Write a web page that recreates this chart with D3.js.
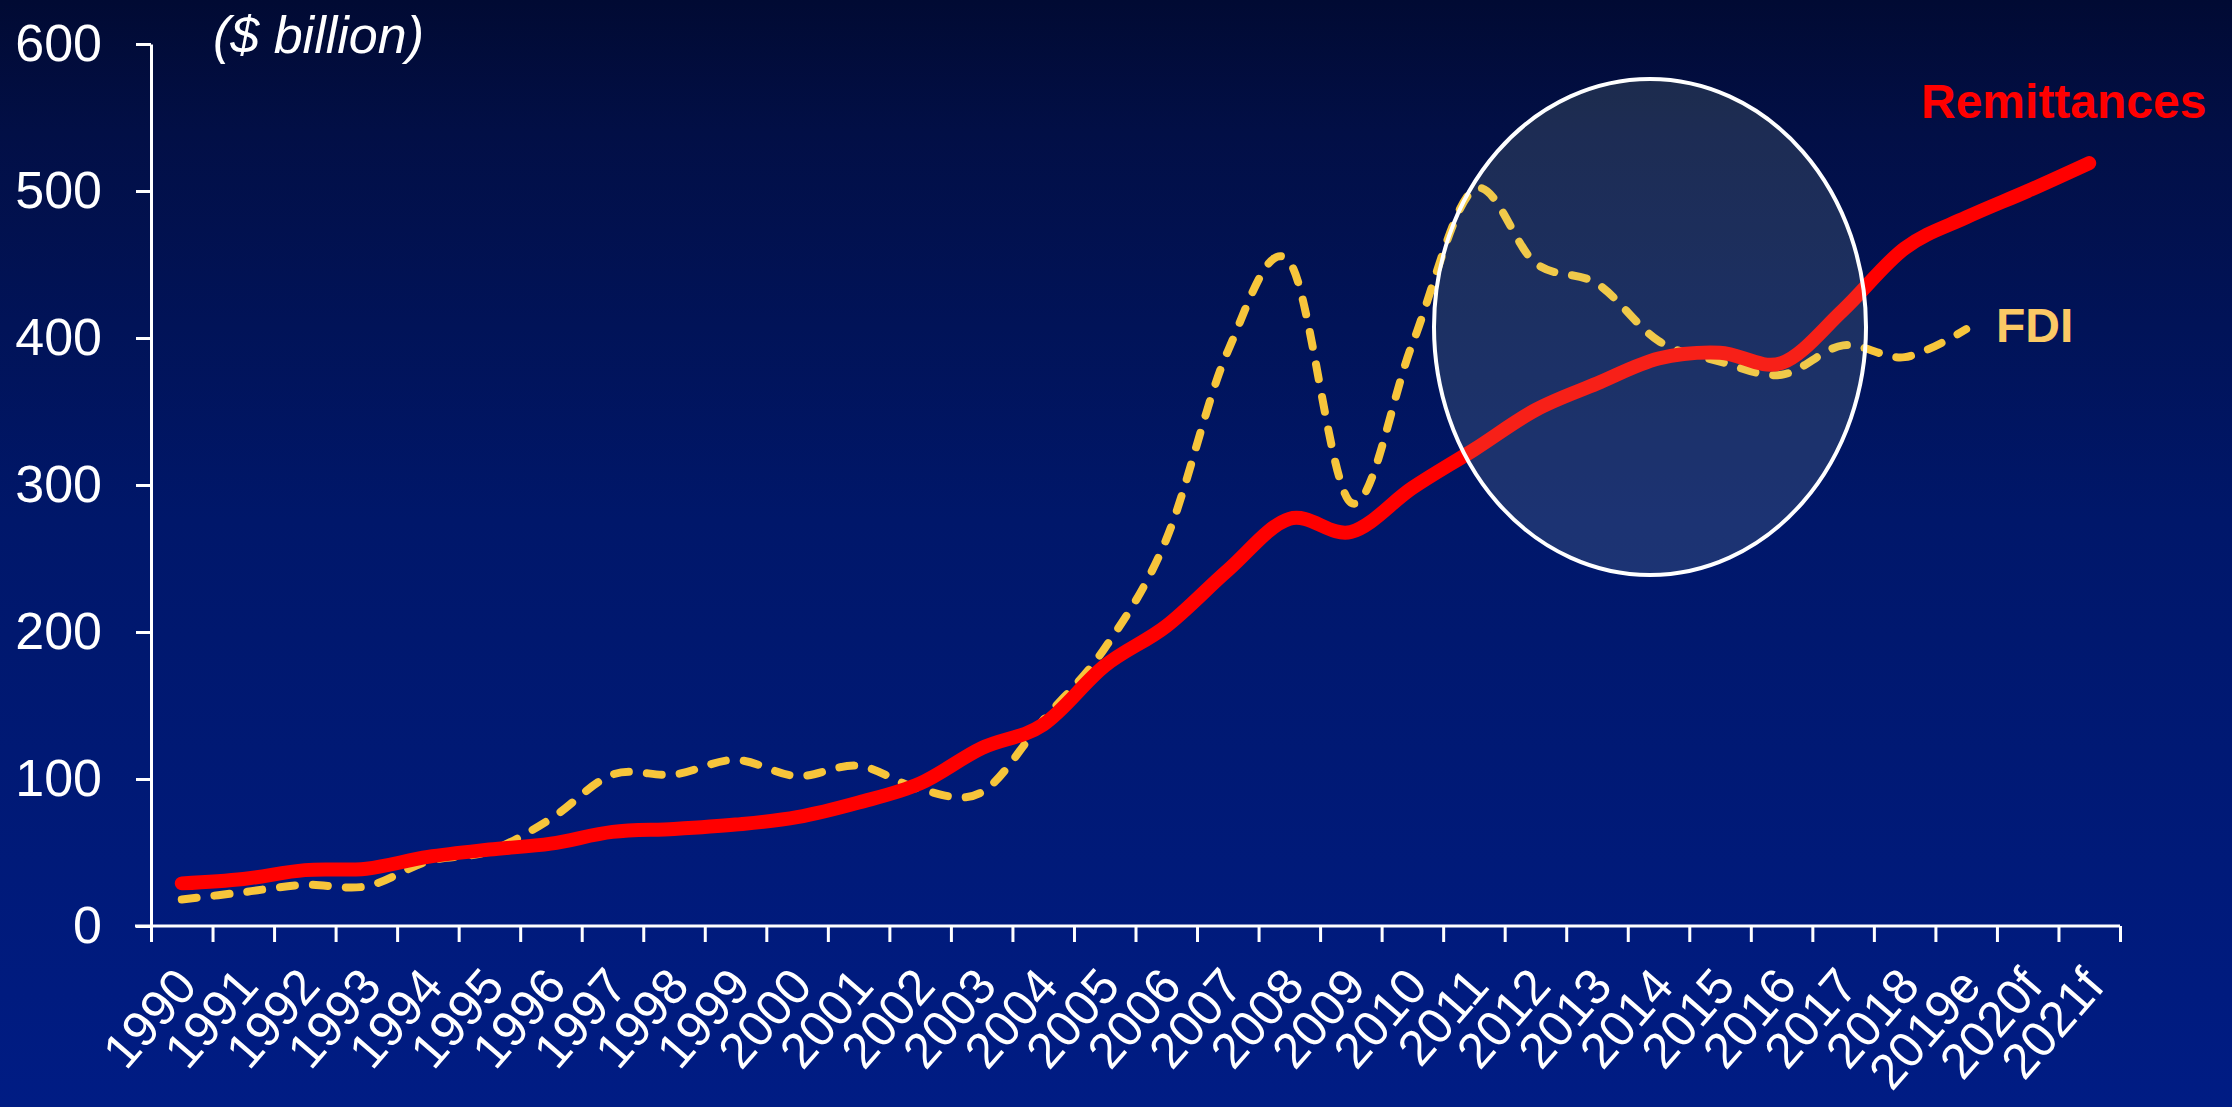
<!DOCTYPE html>
<html>
<head>
<meta charset="utf-8">
<script src="https://cdn.jsdelivr.net/npm/d3@7"></script>
<style>
  html, body { margin: 0; padding: 0; background: #000b3a; }
  svg { display: block; }
  text { font-family: "Liberation Sans", Arial, Helvetica, sans-serif; }
</style>
</head>
<body>
<svg id="chart" width="2232" height="1107"></svg>
<script>
// Remittances vs FDI flows to low- and middle-income countries ($ billion)
const years = ["1990","1991","1992","1993","1994","1995","1996","1997","1998","1999",
  "2000","2001","2002","2003","2004","2005","2006","2007","2008","2009",
  "2010","2011","2012","2013","2014","2015","2016","2017","2018","2019e","2020f","2021f"];

const remittances = [29, 32, 38, 39, 47, 52, 56, 64, 66, 69,
  74, 84, 97, 121, 137, 177, 204, 242, 277, 268,
  298, 324, 351, 369, 386, 390, 383, 419, 461, 482, 500, 519];

// FDI series stops at 2019e
const fdi = [18, 23, 28, 27, 44, 51, 73, 103, 103, 113,
  102, 109, 93, 91, 140, 189, 263, 391, 452, 288,
  396, 501, 451, 437, 398, 384, 375, 395, 387, 406];

const yTicks = [0, 100, 200, 300, 400, 500, 600];

(function draw() {
  const W = 2232, H = 1107;
  const svg = d3.select("#chart");

  // background gradient
  const defs = svg.append("defs");
  const bg = defs.append("linearGradient").attr("id", "bg")
    .attr("x1", 0).attr("y1", 0).attr("x2", 0).attr("y2", 1);
  [[0, "#010a33"], [0.12, "#020f46"], [0.47, "#00176a"], [1, "#001c84"]]
    .forEach(([o, c]) => bg.append("stop").attr("offset", o).attr("stop-color", c));
  svg.append("rect").attr("width", W).attr("height", H).attr("fill", "url(#bg)");

  const plotL = 151, plotR = 2120, plotT = 44, plotB = 926;

  const x = d3.scaleBand().domain(years).range([plotL, plotR]);
  const cx = d => x(d) + x.bandwidth() / 2;
  const y = d3.scaleLinear().domain([0, 600]).range([plotB, plotT]);

  // y axis
  const yAxis = svg.append("g")
    .attr("transform", `translate(${plotL},0)`)
    .call(d3.axisLeft(y).tickValues(yTicks).tickSize(15).tickSizeOuter(0).tickPadding(34));
  yAxis.selectAll("path, line").attr("stroke", "#fff").attr("stroke-width", 3);
  yAxis.selectAll("text").attr("fill", "#fff").attr("font-size", 52)
    .attr("font-family", "'Liberation Sans', Arial, sans-serif");

  // x axis: ticks on category boundaries
  const xb = d3.scaleLinear().domain([0, years.length]).range([plotL, plotR]);
  const xAxis = svg.append("g")
    .attr("transform", `translate(0,${plotB})`)
    .call(d3.axisBottom(xb).tickValues(d3.range(years.length + 1)).tickSize(16)
      .tickSizeOuter(0).tickFormat(""));
  xAxis.select("path").remove();
  xAxis.append("line").attr("x1", plotL - 16).attr("x2", plotR).attr("y1", 0).attr("y2", 0);
  xAxis.selectAll("line").attr("stroke", "#fff").attr("stroke-width", 3);

  // rotated year labels
  svg.append("g").selectAll("text").data(years).join("text")
    .attr("transform", d => `translate(${cx(d) - 10},${plotB + 38}) rotate(-49)`)
    .attr("text-anchor", "end")
    .attr("dy", "0.72em")
    .attr("fill", "#fff")
    .attr("font-size", 50)
    .text(d => d);

  // unit label
  svg.append("text").attr("x", 213).attr("y", 53)
    .attr("fill", "#fff").attr("font-size", 52).attr("font-style", "italic")
    .text("($ billion)");

  // series lines
  const line = d3.line()
    .x((d, i) => cx(years[i]))
    .y(d => y(d))
    .curve(d3.curveCardinal.tension(0));

  svg.append("path").datum(fdi)
    .attr("d", line)
    .attr("fill", "none")
    .attr("stroke", "#f7c53b")
    .attr("stroke-width", 8)
    .attr("stroke-linecap", "round")
    .attr("stroke-dasharray", "15,18");

  svg.append("path").datum(remittances)
    .attr("d", line)
    .attr("fill", "none")
    .attr("stroke", "#ff0000")
    .attr("stroke-width", 14)
    .attr("stroke-linecap", "round")
    .attr("stroke-linejoin", "round");

  // highlight ellipse over the 2011-2017 crossover
  svg.append("ellipse")
    .attr("cx", 1650).attr("cy", 327).attr("rx", 216).attr("ry", 248)
    .attr("fill", "rgb(200,230,170)").attr("fill-opacity", 0.14)
    .attr("stroke", "#fff").attr("stroke-width", 4);

  // series labels
  svg.append("text").attr("x", 1921).attr("y", 118)
    .attr("fill", "#ff0000").attr("font-size", 48).attr("font-weight", "bold")
    .text("Remittances");
  svg.append("text").attr("x", 1996).attr("y", 342)
    .attr("fill", "#fbc965").attr("font-size", 48).attr("font-weight", "bold")
    .text("FDI");
})();
</script>
</body>
</html>
